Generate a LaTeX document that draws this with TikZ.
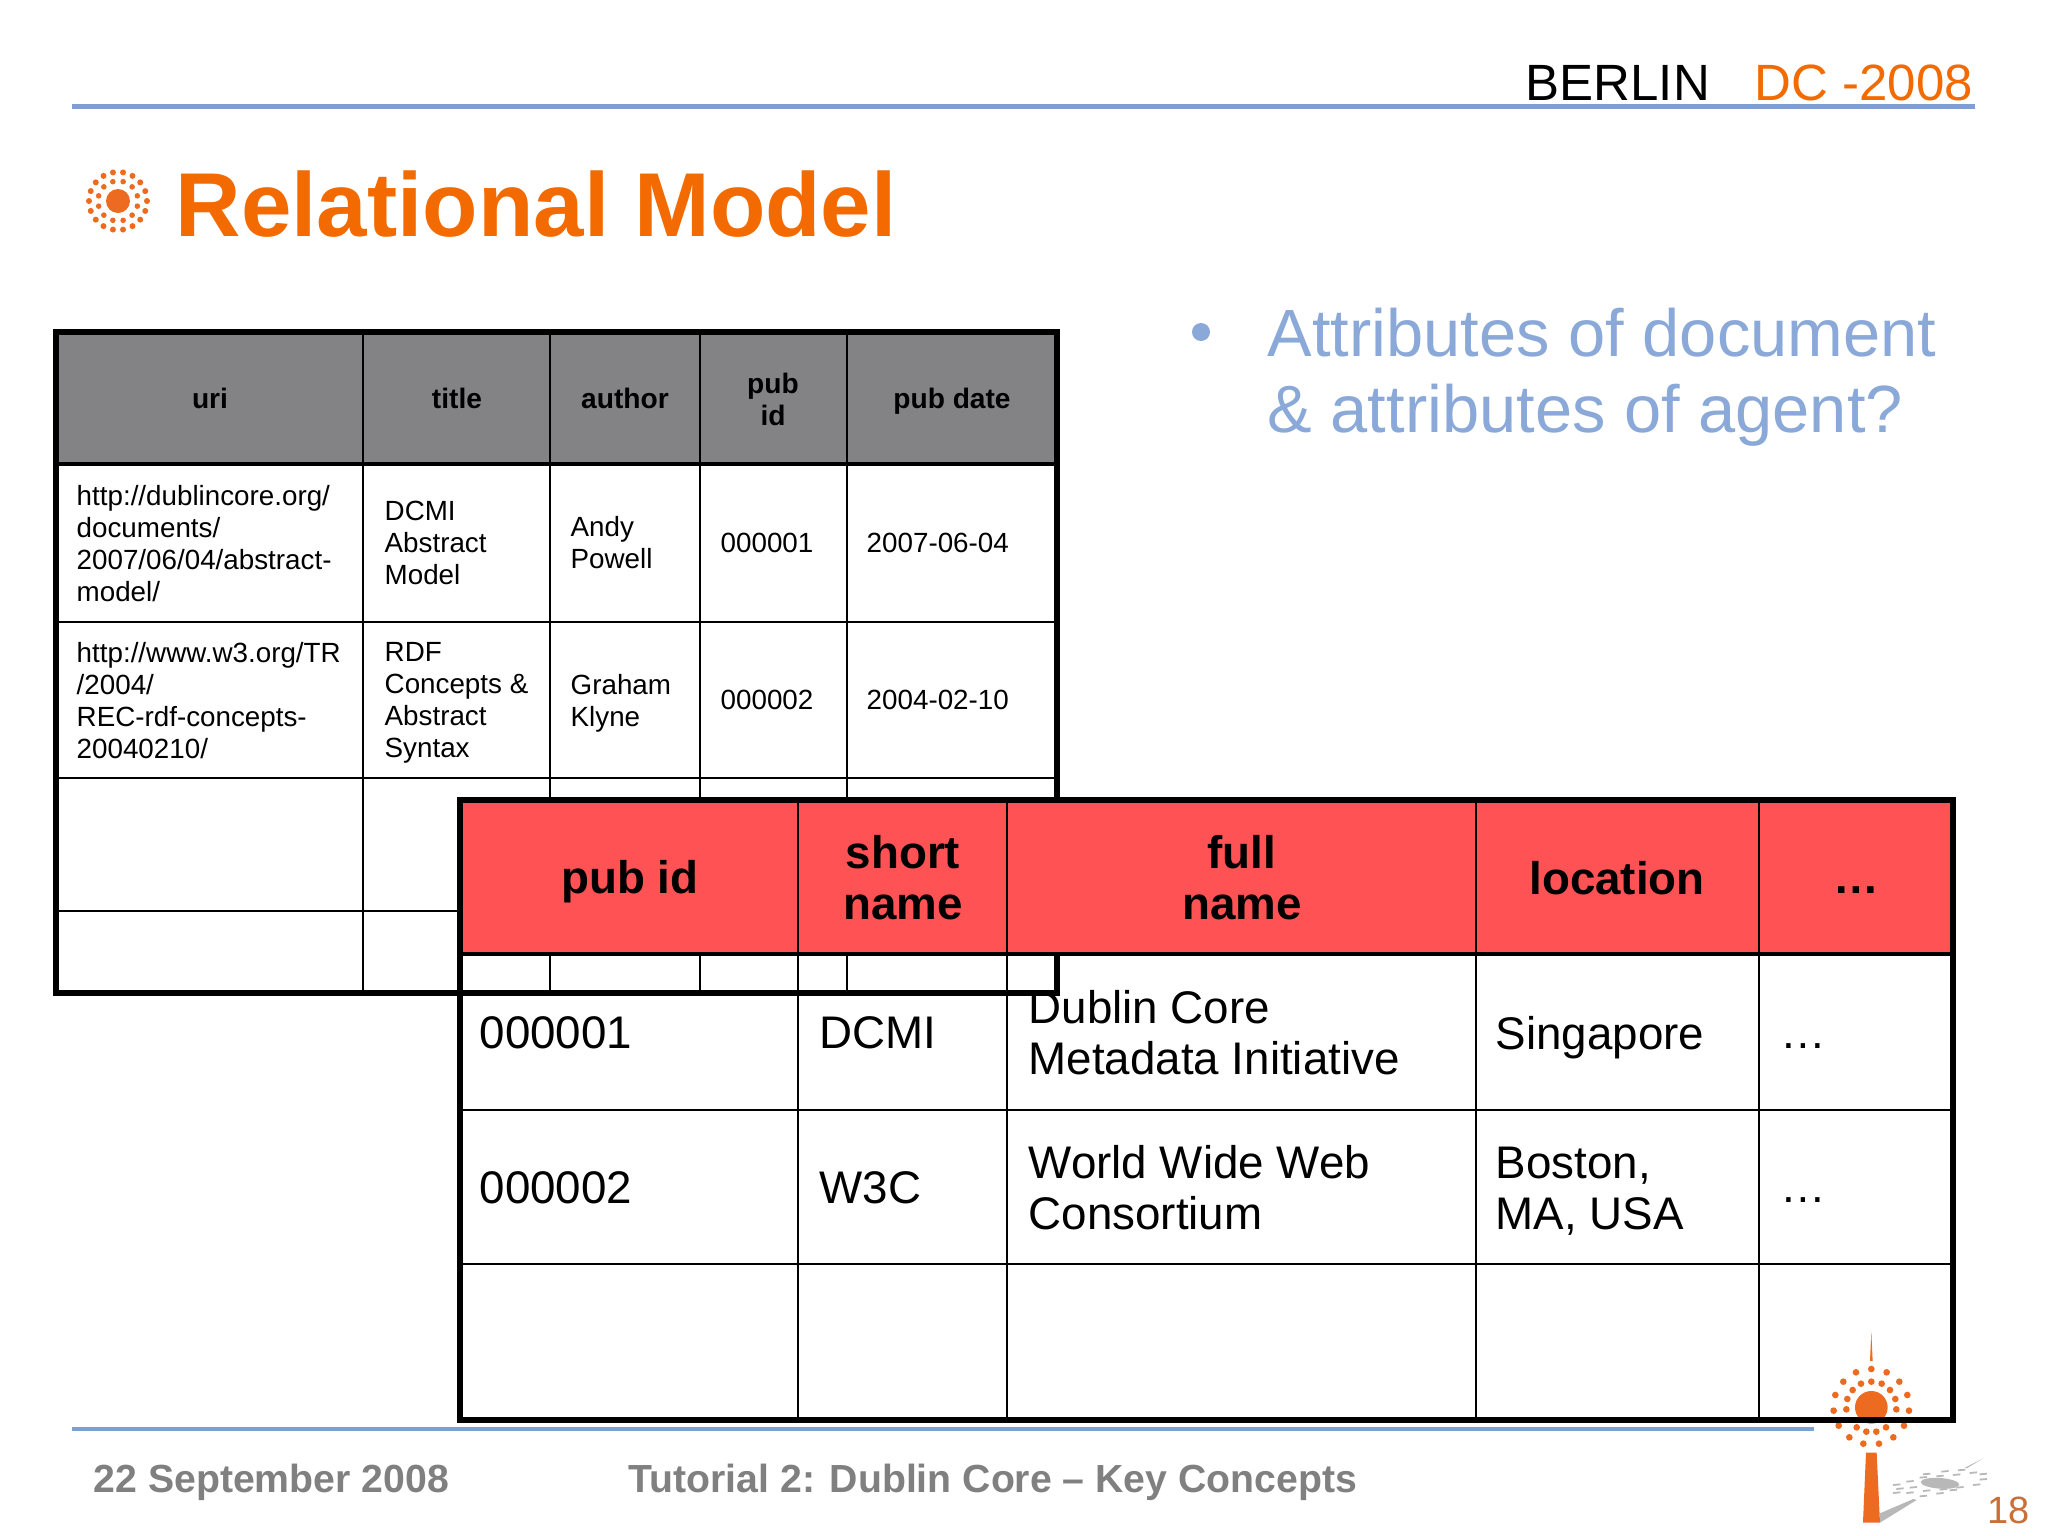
\documentclass[tikz,border=0pt]{standalone}
\usepackage{fontspec}
\setmainfont{Liberation Sans}
\definecolor{slideorange}{HTML}{F26A00}
\definecolor{logoorange}{HTML}{EC6B20}
\definecolor{ruleblue}{HTML}{7F9FCF}
\definecolor{bulletblue}{HTML}{8AA9D8}
\definecolor{headgray}{HTML}{838285}
\definecolor{headred}{HTML}{FF5254}
\definecolor{footgray}{HTML}{808080}
\definecolor{pagebrown}{HTML}{C8703A}
\tikzset{thickrule/.style = {line width=1.6pt}}
\tikzset{thinrule/.style = {line width=0.8pt}}
\tikzset{bluerule/.style = {ruleblue, line width=1.2pt}}
\tikzset{oldcell/.style = {inner sep=0, anchor=west, align=left, font=\fontsize{7.9}{9.1}\selectfont}}
\tikzset{oldhead/.style = {inner sep=0, align=center, font=\fontsize{8}{9.1}\selectfont\bfseries}}
\tikzset{newcell/.style = {inner sep=0, anchor=west, align=left, font=\fontsize{13}{14.5}\selectfont}}
\tikzset{newhead/.style = {inner sep=0, align=center, font=\fontsize{13}{14.5}\selectfont\bfseries}}
\tikzset{footer/.style = {inner sep=0, anchor=base west, footgray, font=\fontsize{11.15}{13}\selectfont\bfseries}}
\begin{document}
\begin{tikzpicture}[x=0.01cm,y=-0.01cm]
        \useasboundingbox (0,0) rectangle (2048,1536);
        \fill [white] (0,0) rectangle (2048,1536);
        \draw [bluerule] (72,106.5)--(1975,106.5);
        \draw [bluerule,line width=1.4pt] (72,1429)--(1814,1429);
        \node (berlin) [inner sep=0,anchor=base west,font=\fontsize{14.5}{16}\selectfont] at (1525,100) {BERLIN};
        \node (dc) [inner sep=0,anchor=base west,slideorange,font=\fontsize{14.5}{16}\selectfont] at (1754,100) {DC -2008};
        \node (title) [inner sep=0,anchor=base west,slideorange,font=\fontsize{25.8}{30}\selectfont\bfseries] at (175,236) {Relational Model};
        \fill [logoorange] (118,201) circle [radius=12];
        \foreach \a in {0,20,...,340} \fill [logoorange] (118,201) ++(\a:29) circle [radius=3];
        \foreach \a in {15,45,...,345} \fill [logoorange] (118,201) ++(\a:20) circle [radius=2.8];
        \fill [bulletblue] (1201,332) circle [radius=9] coordinate (bullet);
        \node (attr) [inner sep=0,anchor=north west,bulletblue,align=left,font=\fontsize{19}{21.7}\selectfont] at (1267,307) {Attributes of document\\\& attributes of agent?};
        % first table
        \fill [headgray] (56,332) rectangle (1057,464);
        \foreach \x in {363,550,700,847} \draw [thinrule] (\x,332)--(\x,993);
        \foreach \y in {622,778,911} \draw [thinrule] (56,\y)--(1057,\y);
        \draw [thickrule,line width=1pt] (56,464)--(1057,464);
        \draw [thickrule] (56,332) rectangle (1057,993);
        \node (uri) [oldhead] at (210,398) {uri};
        \node (title2) [oldhead] at (457,398) {title};
        \node (author) [oldhead] at (625,398) {author};
        \node (pubid) [oldhead] at (773,399) {pub\\id};
        \node (pubdate) [oldhead] at (952,401) {pub date};
        \node (uria) [oldcell] at (76,544) {http://dublincore.org/\\documents/\\2007/06/04/abstract-\\model/};
        \node (titlea) [oldcell] at (384,543) {DCMI\\Abstract\\Model};
        \node (authora) [oldcell] at (570,543) {Andy\\Powell};
        \node (pubida) [oldcell] at (720,543) {000001};
        \node (datea) [oldcell] at (866,543) {2007-06-04};
        \node (urib) [oldcell] at (76,701) {http://www.w3.org/TR\\/2004/\\REC-rdf-concepts-\\20040210/};
        \node (titleb) [oldcell] at (384,703) {RDF\\Concepts \&\\Abstract\\Syntax};
        \node (authorb) [oldcell] at (570,703) {Graham\\Klyne};
        \node (pubidb) [oldcell] at (720,700) {000002};
        \node (dateb) [oldcell] at (866,700) {2004-02-10};
        % second table
        \fill [headred] (460,800) rectangle (1953,954);
        \begin{scope}[shift={(1700,1280)},scale=0.3333]
                \fill [logoorange] (514,155)--(518,243)--(510,243)--cycle;
                \fill [logoorange] (514,382) circle [radius=49];
                \foreach \x/\y in {514/267,468/277,560/277,430/305,598/305,406/345,622/345,401/392,627/392,416/437,612/437,448/472,580/472,490/491,537/491,514/305,483/311,545/311,458/330,570/330,442/357,586/357,439/388,589/388,470/442,558/442,499/455,529/455}
                        \fill [logoorange] (\x,\y) circle [radius=10];
                \fill [logoorange] (498,518)--(530,518)--(540,728)--(489,728)--cycle;
                \fill [black!28] (540,700)--(640,657)--(650,660)--(540,728)--cycle;
                \fill [black!28] (720,610) [rotate around={-4:(720,610)}] ellipse [x radius=58, y radius=16];
                \fill [black!28] (795,563)--(850,535)--(800,565)--cycle;
                \foreach \x/\y in {590/614,630/604,670/592,720/588,770/584,820/578,600/626,640/622,680/632,730/628,780/622,830/614,590/638,630/638,670/648,720/640,760/630,850/582,850/598,680/582,735/574,785/570}
                        \draw [black!28,line width=0.5pt] (\x-11,\y+1)--(\x+11,\y-1);
        \end{scope}
        \foreach \x in {798,1007,1476,1759} \draw [thinrule] (\x,800)--(\x,1420);
        \foreach \y in {1110,1264} \draw [thinrule] (460,\y)--(1953,\y);
        \draw [thickrule,line width=1pt] (460,954)--(1953,954);
        \draw [thickrule] (460,800) rectangle (1953,1420);
        \draw [thickrule] (56,993)--(1057,993);
        \draw [thickrule] (1057,954)--(1057,993);
        \foreach \x in {550,700,847} \draw [thinrule] (\x,954)--(\x,993);
        \node (pubidn) [newhead] at (630,882) {pub id};
        \node (short) [newhead] at (903,878) {short\\name};
        \node (full) [newhead] at (1242,878) {full\\name};
        \node (loc) [newhead] at (1617,878) {location};
        \node (more) [newhead] at (1856,890) {…};
        \node (ida) [newcell] at (479,1033) {000001};
        \node (shorta) [newcell] at (819,1033) {DCMI};
        \node (fulla) [newcell] at (1028,1033) {Dublin Core\\Metadata Initiative};
        \node (loca) [newcell] at (1495,1038) {Singapore};
        \node (morea) [newcell] at (1780,1046) {…};
        \node (idb) [newcell] at (479,1188) {000002};
        \node (shortb) [newcell] at (819,1188) {W3C};
        \node (fullb) [newcell] at (1028,1188) {World Wide Web\\Consortium};
        \node (locb) [newcell] at (1495,1191) {Boston,\\MA, USA};
        \node (moreb) [newcell] at (1780,1200) {…};
        \node (date) [footer] at (93,1492) {22 September 2008};
        \node (tutorial) [footer] at (628,1492) {Tutorial 2: Dublin Core – Key Concepts};
        \node (page) [inner sep=0,anchor=base west,color=pagebrown,font=\fontsize{10.8}{13}\selectfont] at (1987,1523) {18};
    \end{tikzpicture}
\end{document}
